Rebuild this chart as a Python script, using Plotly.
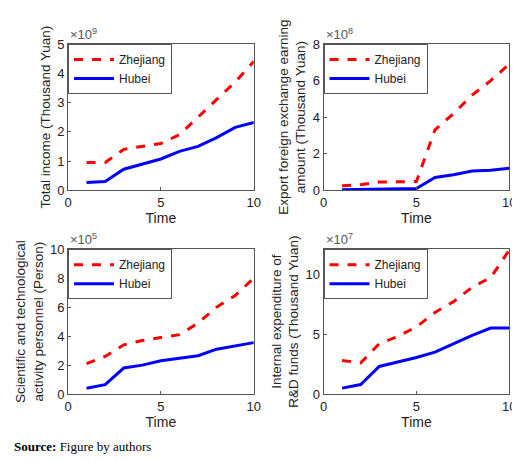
import plotly.graph_objects as go

time = list(range(1, 11))
income_zj = [0.95, 0.95, 1.4, 1.5, 1.6, 1.9, 2.5, 3.1, 3.7, 4.4]
income_hb = [0.27, 0.3, 0.72, 0.9, 1.07, 1.33, 1.5, 1.8, 2.15, 2.32]
export_zj = [0.25, 0.3, 0.45, 0.48, 0.48, 3.3, 4.2, 5.2, 6.0, 6.9]
export_hb = [0.03, 0.05, 0.1, 0.1, 0.1, 0.7, 0.85, 1.05, 1.1, 1.2]
person_zj = [2.1, 2.6, 3.4, 3.7, 3.9, 4.1, 4.9, 6.0, 6.8, 8.0]
person_hb = [0.4, 0.65, 1.8, 2.0, 2.3, 2.5, 2.65, 3.1, 3.3, 3.55]
rd_zj = [2.8, 2.6, 4.2, 4.8, 5.6, 6.8, 7.7, 8.9, 9.7, 12.0]
rd_hb = [0.5, 0.8, 2.3, 2.65, 3.05, 3.5, 4.2, 4.9, 5.5, 5.5]

panels = [
    (income_zj, income_hb, "Total income (Thousand Yuan)", [0, 5], [0, 1, 2, 3, 4, 5], "×10<sup>9</sup>"),
    (export_zj, export_hb, "Export foreign exchange earning<br>amount (Thousand Yuan)", [0, 8], [0, 2, 4, 6, 8], "×10<sup>8</sup>"),
    (person_zj, person_hb, "Scientific and technological<br>activity personnel (Person)", [0, 10], [0, 2, 4, 6, 8, 10], "×10<sup>5</sup>"),
    (rd_zj, rd_hb, "Internal expenditure of<br>R&D funds (Thousand Yuan)", [0, 12.07], [0, 5, 10], "×10<sup>7</sup>"),
]
xdom = [[0.110, 0.475], [0.612, 0.977]]
ydom = [[0.607, 0.935], [0.150, 0.475]]

fig = go.Figure()
font = dict(family="Liberation Sans, Arial", size=13, color="#222")
layout = {}
for i, (zj, hb, ytitle, yr, ticks, expo) in enumerate(panels):
    r, c = divmod(i, 2)
    n = "" if i == 0 else str(i + 1)
    lg = "legend" if i == 0 else f"legend{i+1}"
    fig.add_trace(go.Scatter(x=time, y=zj, mode="lines", name="Zhejiang",
                             line=dict(color="red", width=3, dash="dash"),
                             xaxis="x" + n, yaxis="y" + n, legend=lg))
    fig.add_trace(go.Scatter(x=time, y=hb, mode="lines", name="Hubei",
                             line=dict(color="blue", width=3),
                             xaxis="x" + n, yaxis="y" + n, legend=lg))
    ax = dict(showline=True, linecolor="#555", mirror=True, showgrid=False, zeroline=False,
              ticks="inside", ticklen=3, tickcolor="#555", tickfont=font)
    layout["xaxis" + n] = dict(ax, domain=xdom[c], range=[0, 10], tickvals=[0, 5, 10],
                               anchor="y" + n, title=dict(text="Time", font=dict(font, size=14), standoff=1))
    layout["yaxis" + n] = dict(ax, domain=ydom[r], range=yr, tickvals=ticks,
                               anchor="x" + n, title=dict(text=ytitle, font=dict(font, size=13.5), standoff=3))
    layout[lg] = dict(x=xdom[c][0], y=ydom[r][1], xanchor="left", yanchor="top",
                      bgcolor="white", bordercolor="#555", borderwidth=1,
                      font=dict(font, size=12), tracegroupgap=0, itemwidth=40)
    fig.add_annotation(text=expo, x=xdom[c][0], y=ydom[r][1], xref="paper", yref="paper",
                       xanchor="left", yanchor="bottom", showarrow=False, font=dict(font, color="#555"))

fig.add_annotation(text="<b>Source:</b> Figure by authors", x=0.0, y=0.012, xref="paper", yref="paper",
                   xanchor="left", yanchor="bottom", showarrow=False,
                   font=dict(family="Liberation Serif, Times New Roman", size=13, color="black"))
fig.update_layout(width=520, height=461, margin=dict(l=0, r=0, t=0, b=0),
                  plot_bgcolor="white", paper_bgcolor="white", showlegend=True, **layout)
fig.write_html("out.html")
